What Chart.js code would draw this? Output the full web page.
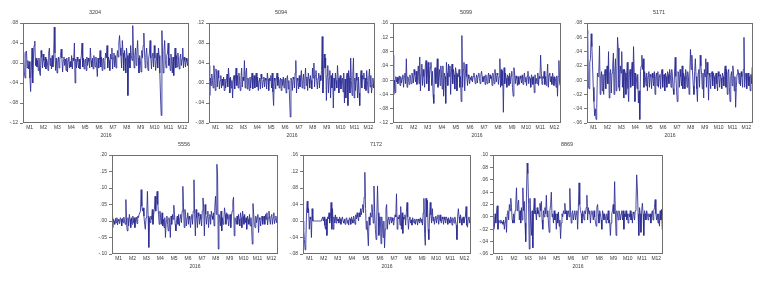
<!DOCTYPE html>
<html>
<head>
<meta charset="utf-8">
<script src="https://cdn.jsdelivr.net/npm/chart.js@4.4.1/dist/chart.umd.min.js"></script>
<style>
  body { margin: 0; background: #fff; }
  #wrap { position: relative; width: 761px; height: 281px; overflow: hidden; }
  canvas { position: absolute; }
</style>
</head>
<body>
<div id="wrap"></div>
<script>
// daily returns 2016, 20 values per month
const months = ['M1','M2','M3','M4','M5','M6','M7','M8','M9','M10','M11','M12'];
const year = '2016';
const stocks = ['3204','5094','5099','5171','5556','7172','8869'];
const yMin  = [-.12, -.08, -.12, -.06, -.10, -.08, -.06];
const yMax  = [ .08,  .12,  .16,  .08,  .20,  .16,  .10];
const yStep = [ .04,  .04,  .04,  .02,  .05,  .04,  .02];

const r3204 = [
  .010, .022,-.020,-.030, .022, .024,-.010, .005,-.012, .003,-.030,-.057,-.015, .030,-.040, .010, .035, .044,-.005, .010,
 -.008, .005,-.015, .010,-.020,-.025, .025, .012,-.010, .018, .005,-.008, .012,-.012, .008, .003,-.015, .020, .030,-.005,
  .010,-.012, .015,-.008, .005, .072, .020,-.015, .010,-.020, .005, .012,-.010, .008, .015, .028, .010,-.018, .005, .012,
 -.005, .008,-.015, .010,-.018, .005, .012,-.010, .003,-.008, .015,-.012, .010, .005, .040,-.040, .008,-.010, .012, .003,
 -.010, .008,-.012, .005, .015, .040,-.008, .010,-.012, .005, .008,-.015, .012,-.005, .010, .003,-.010, .030, .005,-.008,
  .010,-.012, .015, .003,-.008, .012,-.005,-.027, .010,-.010, .005, .025,-.008, .012,-.015, .008, .010,-.012, .005, .020,
  .010, .035,-.010, .012, .005,-.015, .018, .008, .030,-.012, .010, .020,-.008, .015,-.010, .008, .025, .012, .040, .055,
  .030, .015,-.010, .045, .020,-.015, .025, .010,-.020, .030, .015,-.065, .010, .020,-.010, .035, .015, .005, .075, .020,
 -.010, .015, .030,-.005, .020, .045, .010,-.020, .015, .005,-.018, .025, .010, .035, .060, .020,-.010, .015, .030, .005,
 -.015, .010, .020, .045, .010,-.012, .015, .020,-.008, .035, .010,-.015, .005, .020,-.010, .030, .015,-.020,-.068,-.105,
  .065, .010,-.020, .025, .045, .005,-.010, .015, .020, .040,-.005, .010,-.015, .018, .005,-.020, .012,-.025, .008, .030,
 -.010, .015,-.008, .020, .005,-.012, .010, .018,-.005, .008, .030,-.010, .012, .005,-.008, .010, .003,-.005, .008, .005
];

const r5094 = [
  .035,-.025, .010,-.005, .018, .005,-.010, .035, .012,-.015, .028, .020,-.008, .025, .010,-.012, .005, .015,-.010, .008,
 -.005, .012,-.015, .008,-.010, .005, .018,-.008, .030, .010,-.020, .012,-.010, .005,-.030, .008, .015,-.012, .010, .030,
 -.005, .015,-.010, .020, .008,-.015, .010, .030,-.008, .012, .005, .045,-.010, .020, .030,-.012, .010, .005,-.015, .012,
 -.010, .008, .020,-.012, .005, .015,-.010, .010, .020,-.008, .012,-.015, .005, .010,-.012, .018, .008,-.010, .005, .012,
 -.008, .010, .005,-.012, .020, .008,-.015, .010, .005, .015,-.010, .020,-.018,-.045, .010, .005,-.012, .008, .020,-.005,
  .012,-.010, .005, .010,-.015, .008,-.005, .012,-.010, .005, .010,-.020, .008, .015,-.012, .005,-.030,-.068, .010, .005,
 -.015, .012, .008,-.010, .020, .045,-.020, .010, .005,-.012, .015,-.008, .010, .025,-.010, .005, .018,-.012, .008, .030,
 -.005, .012,-.015, .020, .008,-.010, .015, .005,-.012, .030, .010, .040,-.008, .015, .025, .005,-.012, .010, .020,-.010,
  .015, .005, .025, .093,-.020, .010, .058, .030, .050,-.035, .015, .035,-.020, .010, .025,-.030, .015,-.010, .020,-.050,
  .010,-.015, .020, .005,-.010, .035, .010,-.020, .008, .015,-.012, .005, .010,-.018, .020,-.040, .008,-.030, .015, .020,
 -.045, .025, .010,-.020, .050, .005,-.025, .015, .050,-.030, .010,-.015, .020, .005,-.030, .012,-.020,-.045, .010, .025,
 -.010, .015, .008, .020,-.012, .010,-.015, .025, .005,-.020, .010, .028,-.008, .015,-.020,-.005, .010,-.010, .005, .003
];

const r5099 = [
  .070,-.040, .000,-.035, .010,-.005, .008,-.010, .005, .012,-.015, .010,-.008, .005, .015,-.020, .010, .020,-.010, .060,
 -.020, .010, .005,-.012, .015, .008,-.010, .020, .012,-.008, .030, .015,-.005, .025,-.012, .010, .040,-.010, .065,-.030,
  .015, .045,-.015, .030, .010,-.020, .040, .055,-.010, .020, .050,-.030, .015, .035, .050,-.015, .025,-.040,-.065, .030,
  .035,-.010, .020, .060,-.020, .010, .030,-.015, .040, .015,-.025, .040,-.045, .020, .010,-.065, .050, .020,-.015, .045,
  .010, .040,-.040, .020, .045,-.010, .030, .015,-.025, .035, .020,-.030, .015, .010, .030,-.020, .010,-.060, .125,-.020,
  .030, .050,-.030, .020, .045, .010,-.015, .015, .005,-.010, .008, .000, .012,-.005, .010, .020, .008,-.010, .005, .015,
 -.008, .012, .020, .005,-.010, .015, .025, .010,-.005, .008, .012,-.012, .015, .005,-.010, .010, .020,-.008, .015, .005,
  .010,-.015, .020, .008,-.010, .030, .012,-.005, .020, .015,-.012, .010, .060,-.020, .030,-.015, .025,-.090, .035,-.010,
  .020, .005,-.020, .015, .010,-.015, .020,-.010, .012, .025,-.020,-.045, .035, .020,-.010, .012, .005,-.015, .010,-.012,
 -.010, .012, .005,-.008, .015,-.012, .010, .020,-.005, .008,-.015, .012, .025,-.010, .010, .005,-.020, .015, .008,-.012,
  .010,-.035, .015,-.010, .005,-.010, .020,-.015, .010, .005, .070, .020,-.012, .010, .005, .025,-.012, .010,-.015, .008,
  .045,-.020, .015, .020,-.005, .010,-.012, .020, .008,-.015, .010, .005,-.020, .012,-.045, .010, .055,-.010,-.015,-.012
];

const r5171 = [
  .065, .070,-.008,-.012, .025, .030, .065, .047, .020,-.010,-.030,-.050,-.040,-.055,-.040, .010, .005, .012, .048,-.020,
  .005, .012,-.015, .008,-.020, .005, .015,-.012, .010, .020,-.005, .040,-.025, .010, .015,-.018, .010, .020, .038,-.020,
  .012, .030,-.015, .010, .060, .045,-.010,-.015, .020, .010, .040,-.010, .015,-.025, .015, .010,-.020, .005, .025,-.012,
 -.030, .008, .015,-.010, .012, .025,-.008, .047, .010,-.030, .010, .005,-.012, .008,-.032,-.015,-.055, .012, .020, .035,
  .015, .030,-.010, .012, .005,-.008, .010,-.015, .005, .012,-.010, .008, .005,-.012, .010, .003,-.008, .012,-.020, .005,
  .010,-.008, .012,-.010, .005, .008,-.012, .010, .015,-.010, .005, .008,-.015, .010, .005,-.010, .012, .008,-.005, .015,
  .008,-.010, .015, .005,-.012,-.020, .010, .032, .005,-.015,-.030, .012, .008,-.010, .015, .005,-.008, .020,-.012, .010,
  .005,-.012, .015, .008,-.010, .012, .005,-.020, .010, .043, .015, .035, .010,-.008,-.020, .012, .030, .005,-.012,-.030,
  .010, .015,-.010, .035, .020, .008,-.012, .010,-.025, .015, .005, .030,-.010, .025, .008,-.028, .010, .005,-.012, .008,
  .012,-.008, .010, .005,-.012, .008, .010,-.005,-.015, .012, .005,-.010, .008, .003,-.012, .010, .005,-.008, .012, .020,
 -.010, .015,-.020, .010, .015,-.010,-.030, .005, .012,-.008, .020, .010,-.015, .005,-.038,-.010, .008, .015, .012,-.005,
  .010,-.008, .012, .005,-.010, .015, .060,-.010, .008, .010,-.012, .005, .010,-.008, .005,-.015, .008,-.005, .018,-.038
];

const r5556 = [
  .010,-.020, .005, .000,-.010, .008,-.005, .010,-.012, .005, .000,-.008, .010, .005,-.015, .008,-.005, .012, .000,-.010,
  .065,-.010,-.030, .010,-.015, .020, .005,-.020, .010,-.010, .015,-.005, .010,-.020, .005, .012,-.008, .015, .010, .020,
  .020, .030, .095, .045, .030, .040, .015,-.010,-.025, .010, .020, .090, .015,-.080, .010,-.005, .015, .005, .035,-.010,
  .020, .035, .075, .030, .065, .090, .050, .020,-.010, .030, .010,-.010, .025,-.015, .005,-.020, .010,-.050, .000, .015,
 -.010,-.030, .010,-.005,-.050, .015,-.010, .020, .005, .048, .020,-.010,-.030, .005, .015,-.010, .020,-.015, .010, .020,
 -.005, .030, .105, .040,-.020, .035, .020,-.015, .010, .025,-.010, .015, .005,-.020, .010, .020,-.010, .030, .125, .020,
 -.045, .035, .010,-.020, .025, .015,-.010, .020, .005,-.015, .030, .070, .040,-.045, .050, .020,-.010, .015, .030,-.020,
  .010, .020,-.010, .030, .015, .005, .025,-.015, .040, .075, .020, .172, .140,-.085, .020, .010,-.015, .030,-.030, .010,
 -.010, .005, .040, .020,-.010, .025, .020, .005,-.015, .010, .020,-.020, .015, .030, .060, .072,-.045, .010, .005,-.010,
  .015,-.010, .020, .005,-.015, .025, .010,-.020, .030, .015,-.010, .020,-.005, .010,-.025, .015, .005,-.010, .020,-.015,
  .010,-.020,-.070, .053, .020,-.010,-.020, .015,-.005, .010, .020,-.035, .010, .005,-.015, .010, .015,-.010, .005, .015,
 -.010, .020, .005, .025,-.012, .010, .030, .005,-.010, .015, .020,-.010, .010, .025,-.008, .005, .015,-.005, .003, .000
];

const r7172 = [
  .000,-.020,-.045,-.070,-.055, .020, .048, .020, .030,-.020, .010, .005,-.040, .030, .000, .000, .000, .000, .000, .000,
  .000, .000, .000, .000, .000, .000, .000, .000, .010, .000, .010,-.010,-.020, .005,-.035, .010, .005, .020,-.005, .010,
  .045,-.020, .030,-.020, .010,-.005, .015,-.005, .010, .000, .005,-.005, .010, .005,-.008, .003, .010, .000,-.005, .005,
 -.008, .005, .008,-.005, .003,-.010, .008, .005,-.008, .010, .003,-.005, .012, .005,-.008, .015, .005, .020, .010, .000,
  .020, .010, .030, .015, .030, .040, .020, .058, .118, .030,-.020, .000,-.030,-.060, .010,-.010, .020, .010, .040, .020,
 -.005, .085, .020,-.020,-.045, .010, .085, .020,-.035, .010, .010,-.055, .010,-.010,-.040, .000,-.065,-.020, .030, .040,
 -.020, .005, .010,-.008, .005, .010,-.005, .008, .000,-.010, .005, .015, .010, .066,-.020, .010, .005, .015,-.010, .035,
 -.020, .020,-.030, .010, .005, .015,-.010, .020, .045, .010,-.020, .005, .010,-.005, .003,-.010, .008, .000,-.005, .005,
 -.008, .003, .005,-.010, .005, .000,-.005, .008,-.003, .005,-.010, .020, .055,-.030,-.059, .055, .010, .050,-.020,-.045,
  .010, .045, .015,-.005, .030, .000, .010,-.008, .005, .012,-.005, .008, .015,-.008, .005, .015, .000,-.005, .010, .005,
 -.008, .010, .003,-.005, .010, .005,-.008, .008, .002,-.005, .010, .005,-.010, .008, .003,-.005, .010, .000,-.010,-.045,
  .010, .030, .010,-.005, .015, .005,-.010, .008, .010,-.005, .005, .010, .035,-.010,-.015, .005, .010,-.005, .005, .005
];

const r8869 = [
  .000,-.020,-.015, .005,-.010, .010, .018,-.020,-.005,-.008,-.010,-.005,-.010,-.008,-.012,-.005,-.020,-.008, .000,-.025,
  .005, .010,-.005, .020, .010, .030, .015,-.005,-.010, .005,-.010, .010, .020, .047, .010, .020, .027,-.005, .010,-.010,
  .015,-.005, .047, .010, .025,-.010,-.040, .030, .087, .070, .020,-.052, .030,-.010,-.030, .010,-.050, .010, .030, .005,
  .010,-.005, .015, .005, .010, .000, .022, .010, .025,-.005,-.020, .010, .000, .015, .005, .035, .000, .010,-.010,-.025,
  .010, .020, .040, .000, .005,-.010, .010,-.005, .005,-.020, .005,-.010, .008,-.015,-.005,-.035,-.010, .005, .000, .010,
  .005, .022, .005, .010,-.005, .005, .010, .000, .046, .010,-.010, .005, .010,-.005, .005, .010,-.005, .005, .010,-.020,
  .015, .055, .020, .010, .005,-.010, .010, .005,-.005, .010, .005, .015, .035,-.005, .015, .005, .010,-.010, .005, .010,
  .005,-.005, .010, .000,-.008,-.015, .015, .020, .005,-.010, .010, .005,-.005,-.020, .010, .005,-.005, .005, .000,-.010,
  .005,-.005, .010,-.010,-.005,-.030,-.010, .005, .010, .020, .005, .057, .010,-.030, .010, .005,-.005, .010, .005,-.005,
  .005, .010,-.005, .010,-.020, .005, .000, .010,-.005, .005,-.010, .005, .000, .010,-.005, .005,-.010, .008, .005,-.005,
  .010, .020, .068, .045, .005,-.030, .015, .005,-.025, .010, .022, .005,-.030, .010, .005,-.005, .010, .005,-.005, .005,
  .000, .005,-.010, .005, .010,-.005, .010, .015, .028, .005,-.005, .005,-.010, .005,-.015, .010,-.005, .012,-.020,-.015
];

const series = [r3204, r5094, r5099, r5171, r5556, r7172, r8869];

// plot-box placement of each panel on the page: [left, top, right, bottom]
const boxes = [
  [23, 23, 189, 123], [209, 23, 375, 123], [393, 23, 561, 123], [587, 23, 753, 123],
  [112, 155, 278, 254], [303, 155, 471, 254], [493, 155, 663, 254]
];

const FONT = "'Liberation Sans', Arial, sans-serif";
const TXT = '#3c3c3c';
const AXIS_W = 22, TITLE_H = 23, XAX_H = 18, PAD_R = 4;

function fmt(v) {
  let s = Number(v).toFixed(2);
  return s.replace(/^(-?)0\./, '$1.');
}

// frame around the plot area
const boxBorder = {
  id: 'boxBorder',
  afterDraw(chart) {
    const {ctx, chartArea: a} = chart;
    ctx.save();
    ctx.strokeStyle = '#6f6f6f';
    ctx.lineWidth = 1;
    ctx.strokeRect(Math.round(a.left) + 0.5, Math.round(a.top) + 0.5,
                   Math.round(a.right - a.left) - 1, Math.round(a.bottom - a.top) - 1);
    ctx.restore();
  }
};

const wrap = document.getElementById('wrap');

stocks.forEach(function(code, k) {
  const b = boxes[k];
  const cv = document.createElement('canvas');
  const w = b[2] - b[0] + AXIS_W + PAD_R;
  const h = b[3] - b[1] + TITLE_H + XAX_H;
  cv.width = w; cv.height = h;
  cv.style.left = (b[0] - AXIS_W) + 'px';
  cv.style.top = (b[1] - TITLE_H) + 'px';
  cv.style.width = w + 'px'; cv.style.height = h + 'px';
  wrap.appendChild(cv);

  const vals = series[k];
  const n = vals.length;
  const perMonth = n / months.length;
  const pts = vals.map((v, i) => ({x: i, y: v}));

  new Chart(cv, {
    type: 'line',
    data: {
      datasets: [{
        data: pts,
        borderColor: '#2a2a92',
        borderWidth: 0.85,
        pointRadius: 0,
        tension: 0,
        fill: false
      }]
    },
    plugins: [boxBorder],
    options: {
      responsive: false,
      animation: false,
      devicePixelRatio: 1,
      layout: { padding: { left: 0, right: PAD_R, top: 0, bottom: 0 } },
      plugins: {
        legend: { display: false },
        tooltip: { enabled: false },
        title: {
          display: true,
          text: code,
          color: TXT,
          font: { family: FONT, size: 5.5, weight: 'normal', lineHeight: 1.1 },
          padding: { top: 9, bottom: 8 }
        }
      },
      scales: {
        x: {
          type: 'linear',
          min: 0,
          max: n - 1,
          afterBuildTicks: function(scale) {
            scale.ticks = months.map((m, i) => ({ value: i * perMonth + perMonth / 2 - 0.5 }));
          },
          afterFit: function(scale) { scale.height = XAX_H; },
          grid: { display: false, drawTicks: false, tickLength: 0 },
          border: { display: false },
          ticks: {
            autoSkip: false,
            maxRotation: 0,
            padding: 2,
            color: TXT,
            font: { family: FONT, size: 5 },
            callback: function(v, i) { return months[i]; }
          },
          title: {
            display: true,
            text: year,
            color: TXT,
            font: { family: FONT, size: 5 },
            padding: { top: 1, bottom: 2 }
          }
        },
        y: {
          min: yMin[k],
          max: yMax[k],
          afterFit: function(scale) { scale.width = AXIS_W; },
          grid: { drawOnChartArea: false, drawTicks: true, tickLength: 3, color: '#777' },
          border: { display: false },
          ticks: {
            stepSize: yStep[k],
            padding: 2,
            color: TXT,
            font: { family: FONT, size: 5 },
            callback: function(v) { return fmt(v); }
          }
        }
      }
    }
  });
});
</script>
</body>
</html>
